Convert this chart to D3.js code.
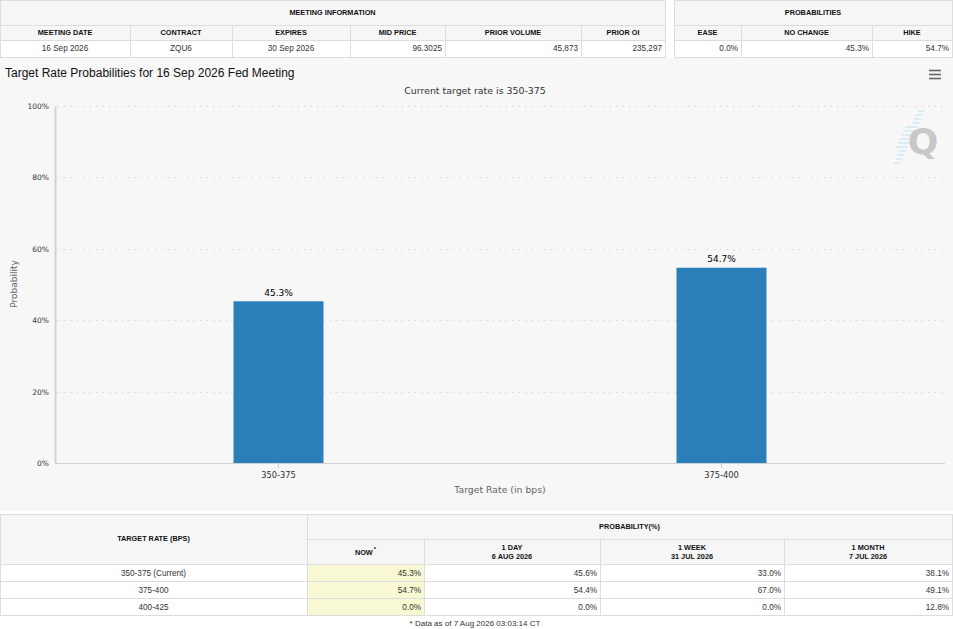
<!DOCTYPE html>
<html lang="en">
<head>
<meta charset="UTF-8">
<title>Target Rate Probabilities</title>
<script src="https://cdn.jsdelivr.net/npm/d3@7"></script>
<style>
    body { margin: 0; background: #fff; }
    svg { display: block; }
    .th { font-family: "Liberation Sans", Arial, sans-serif; font-size: 7.3px; font-weight: bold; fill: #111; }
    .td { font-family: "Liberation Sans", Arial, sans-serif; font-size: 8.2px; fill: #333; }
    .ct { font-family: "DejaVu Sans", sans-serif; }
</style>
</head>
<body>
<script>
// --- data ---
const meetingHeaders = ['MEETING DATE', 'CONTRACT', 'EXPIRES', 'MID PRICE', 'PRIOR VOLUME', 'PRIOR OI']
const meetingValues = ['16 Sep 2026', 'ZQU6', '30 Sep 2026', '96.3025', '45,873', '235,297']
const probHeaders = ['EASE', 'NO CHANGE', 'HIKE']
const probValues = [0.0, 45.3, 54.7]

const categories = ['350-375', '375-400']
const probabilities = [45.3, 54.7]
const yTicks = [0, 20, 40, 60, 80, 100]

const rateRows = ['350-375 (Current)', '375-400', '400-425']
const periodHeaders = [['NOW'], ['1 DAY', '6 AUG 2026'], ['1 WEEK', '31 JUL 2026'], ['1 MONTH', '7 JUL 2026']]
const nowValues = [45.3, 54.7, 0.0]
const dayValues = [45.6, 54.4, 0.0]
const weekValues = [33.0, 67.0, 0.0]
const monthValues = [38.1, 49.1, 12.8]

const W = 953, H = 629
const border = '#dddddd', headFill = '#f6f6f6'
const pct = d => d.toFixed(1) + '%'

const svg = d3.select('body').append('svg')
    .attr('width', W)
    .attr('height', H)

function cell (g, x0, y0, x1, y1, fill) {
    g.append('rect')
        .attr('x', x0 + 0.5).attr('y', y0 + 0.5)
        .attr('width', x1 - x0).attr('height', y1 - y0)
        .attr('fill', fill).attr('stroke', border)
}
function label (g, cls, x, y, txt, anchor) {
    return g.append('text').attr('class', cls)
        .attr('x', x).attr('y', y)
        .attr('text-anchor', anchor || 'middle')
        .text(txt)
}

// --- top tables ---
const topG = svg.append('g')
const meetCols = [0, 130, 232, 350, 445, 581, 665]
const probCols = [674, 741, 872, 952]
const rowsY = [0, 25, 40, 57]

function infoTable (cols, title, heads, vals, aligns) {
    cell(topG, cols[0], rowsY[0], cols[cols.length - 1], rowsY[1], headFill)
    label(topG, 'th', (cols[0] + cols[cols.length - 1]) / 2, 15, title)
    heads.forEach((h, i) => {
        cell(topG, cols[i], rowsY[1], cols[i + 1], rowsY[2], headFill)
        label(topG, 'th', (cols[i] + cols[i + 1]) / 2, 35, h)
        cell(topG, cols[i], rowsY[2], cols[i + 1], rowsY[3], '#fff')
        if (aligns[i] === 'end') label(topG, 'td', cols[i + 1] - 3, 51, vals[i], 'end')
        else label(topG, 'td', (cols[i] + cols[i + 1]) / 2, 51, vals[i])
    })
}
infoTable(meetCols, 'MEETING INFORMATION', meetingHeaders, meetingValues,
    ['middle', 'middle', 'middle', 'end', 'end', 'end'])
infoTable(probCols, 'PROBABILITIES', probHeaders, probValues.map(pct), ['end', 'end', 'end'])

// --- chart ---
const chart = svg.append('g').attr('class', 'ct')
chart.append('rect')
    .attr('x', 0).attr('y', 58).attr('width', W).attr('height', 453)
    .attr('fill', '#f7f7f7')

chart.append('text')
    .attr('x', 5).attr('y', 77)
    .style('font-family', '"Liberation Sans", Arial, sans-serif')
    .style('font-size', '12px')
    .attr('fill', '#111')
    .text('Target Rate Probabilities for 16 Sep 2026 Fed Meeting')

chart.append('text')
    .attr('x', 475).attr('y', 94)
    .attr('text-anchor', 'middle')
    .style('font-size', '9.4px')
    .attr('fill', '#333')
    .text('Current target rate is ' + categories[0])

// menu icon
chart.selectAll('.menu').data([0, 1, 2]).enter().append('line')
    .attr('x1', 929).attr('x2', 941)
    .attr('y1', d => 70.5 + d * 4).attr('y2', d => 70.5 + d * 4)
    .attr('stroke', '#666').attr('stroke-width', 1.6)

// watermark
const wm = chart.append('g').attr('opacity', 0.9)
d3.range(14).forEach(i => {
    const yy = 111 + i * 4
    const xr = 925 - i * 1.9
    wm.append('line')
        .attr('x1', xr - 4 - (i > 3 && i < 10 ? 8 : 3)).attr('x2', xr)
        .attr('y1', yy).attr('y2', yy)
        .attr('stroke', '#c6e6f6').attr('stroke-width', 1.3)
})
wm.append('text')
    .attr('x', 923).attr('y', 154)
    .attr('text-anchor', 'middle')
    .style('font-family', '"DejaVu Sans", sans-serif')
    .style('font-size', '36px').style('font-weight', 'bold')
    .attr('fill', '#c4c4c4')
    .text('Q')

const x = d3.scaleBand().domain(categories).range([57, 943])
const y = d3.scaleLinear().domain([0, 100]).range([463, 106])
const barW = 90

// grid
chart.append('g').selectAll('line').data(yTicks).enter().append('line')
    .attr('x1', 57).attr('x2', 945)
    .attr('y1', d => Math.round(y(d)) + 0.5).attr('y2', d => Math.round(y(d)) + 0.5)
    .attr('stroke', d => d === 0 ? '#d0d0d0' : '#d6d6d6')
    .attr('stroke-width', 1)
    .attr('stroke-dasharray', d => d === 0 ? null : '1.5,5')

// y axis
const yAxis = chart.append('g')
    .attr('transform', 'translate(55,0)')
    .call(d3.axisLeft(y).tickValues(yTicks).tickFormat(d => d + '%').tickSize(0).tickPadding(6))
yAxis.select('.domain').attr('stroke', '#d4d4d4').attr('stroke-width', 2)
yAxis.selectAll('text')
    .style('font-family', '"DejaVu Sans", sans-serif')
    .style('font-size', '7.5px').attr('fill', '#333')

chart.append('text')
    .attr('transform', 'translate(17,284) rotate(-90)')
    .attr('text-anchor', 'middle')
    .style('font-size', '9px')
    .attr('fill', '#666')
    .text('Probability')

// bars
chart.append('g').selectAll('rect').data(probabilities).enter().append('rect')
    .attr('x', (d, i) => x(categories[i]) + x.bandwidth() / 2 - barW / 2)
    .attr('y', d => y(d))
    .attr('width', barW)
    .attr('height', d => y(0) - y(d))
    .attr('fill', '#2a7fb8')

chart.append('g').selectAll('text').data(probabilities).enter().append('text')
    .attr('x', (d, i) => x(categories[i]) + x.bandwidth() / 2)
    .attr('y', d => y(d) - 5.5)
    .attr('text-anchor', 'middle')
    .style('font-size', '9px')
    .attr('fill', '#000')
    .text(d => d.toFixed(1) + '%')

// x axis
const xAxis = chart.append('g')
    .attr('transform', 'translate(0,463)')
    .call(d3.axisBottom(x).tickSize(5).tickPadding(4))
xAxis.select('.domain').attr('stroke', '#d0d0d0').attr('d', 'M55,0.5H945')
xAxis.selectAll('.tick line').attr('stroke', '#ccc')
xAxis.selectAll('text')
    .style('font-family', '"DejaVu Sans", sans-serif')
    .style('font-size', '8.3px').attr('fill', '#333')

chart.append('text')
    .attr('x', 500).attr('y', 493)
    .attr('text-anchor', 'middle')
    .style('font-size', '9.3px')
    .attr('fill', '#666')
    .text('Target Rate (in bps)')

// --- bottom table ---
const bt = svg.append('g')
const bCols = [0, 307, 424, 600, 784, 952]
const bRows = [514, 539, 564, 581, 598, 615]
const series = [nowValues, dayValues, weekValues, monthValues]

cell(bt, bCols[0], bRows[0], bCols[1], bRows[2], headFill)
label(bt, 'th', bCols[1] / 2, 541, 'TARGET RATE (BPS)')
cell(bt, bCols[1], bRows[0], bCols[5], bRows[1], headFill)
label(bt, 'th', (bCols[1] + bCols[5]) / 2, 529, 'PROBABILITY(%)')

periodHeaders.forEach((ph, i) => {
    const cx = (bCols[i + 1] + bCols[i + 2]) / 2
    cell(bt, bCols[i + 1], bRows[1], bCols[i + 2], bRows[2], headFill)
    if (ph.length === 1) {
        const t = label(bt, 'th', cx, 555, ph[0])
        t.append('tspan').attr('dy', -4).attr('dx', 1).style('font-size', '6px').text('*')
    } else {
        label(bt, 'th', cx, 550, ph[0])
        label(bt, 'th', cx, 559, ph[1])
    }
})

rateRows.forEach((r, j) => {
    const y0 = bRows[j + 2], y1 = bRows[j + 3]
    cell(bt, bCols[0], y0, bCols[1], y1, '#fff')
    label(bt, 'td', bCols[1] / 2, y0 + 11.5, r)
    series.forEach((s, i) => {
        cell(bt, bCols[i + 1], y0, bCols[i + 2], y1, i === 0 ? '#f8f8d2' : '#fff')
        label(bt, 'td', bCols[i + 2] - 3, y0 + 11.5, pct(s[j]), 'end')
    })
})

label(bt, 'td', 475, 626, '* Data as of 7 Aug 2026 03:03:14 CT')
    .attr('fill', '#aaa').style('font-size', '8px')
</script>
</body>
</html>
